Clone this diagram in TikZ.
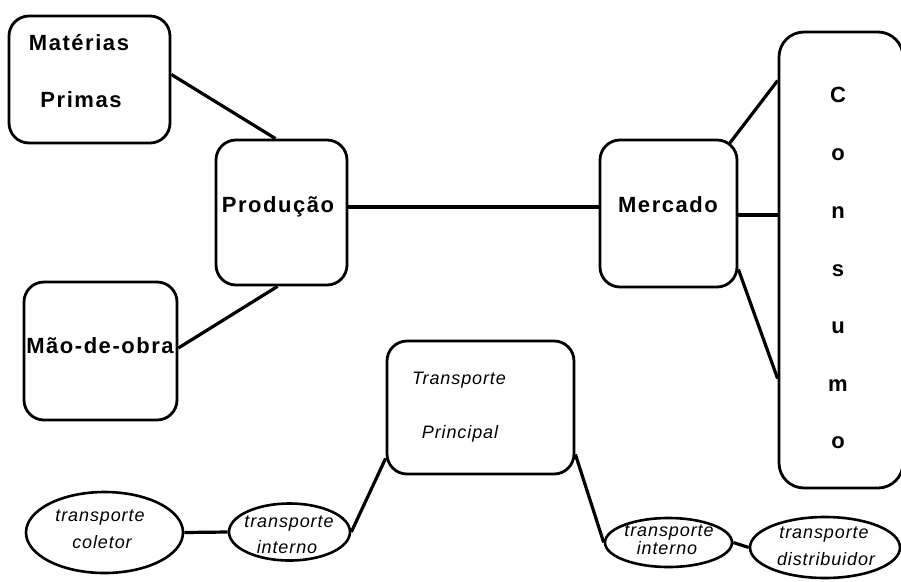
\documentclass[tikz,border=0pt]{standalone}
\usepackage{fontspec}
\setmainfont{Liberation Sans}
\usetikzlibrary{shapes.geometric,calc}
\begin{document}
\begin{tikzpicture}[x=1pt,y=-1pt,
  box/.style={draw,line width=2.8pt,rounded corners=20pt,inner sep=0pt},
  oval/.style={draw,ellipse,line width=2.6pt,inner sep=0pt},
  conn/.style={line width=3.2pt},
  lbl/.style={font=\fontsize{22}{22}\selectfont\bfseries\addfontfeature{LetterSpace=7},inner sep=0pt,anchor=base},
  itl/.style={font=\fontsize{18}{18}\selectfont\itshape\addfontfeature{LetterSpace=5},inner sep=0pt,anchor=base}]
\useasboundingbox (0,0) rectangle (901,581);
% boxes
\node[box,minimum width=161pt,minimum height=127pt] (mp) at (89.5,79.5) {};
\node[box,minimum width=131pt,minimum height=145pt] (prod) at (281.5,212.5) {};
\node[box,minimum width=153pt,minimum height=138pt] (mo) at (100.5,351) {};
\node[box,minimum width=137pt,minimum height=147pt] (merc) at (668.5,213.5) {};
\node[box,rounded corners=25pt,minimum width=124pt,minimum height=456pt] (cons) at (841,260) {};
\node[box,minimum width=187pt,minimum height=133pt] (tp) at (480.5,407.5) {};
% ellipses
\node[oval,minimum width=157pt,minimum height=81pt] (col) at (104.5,532.5) {};
\node[oval,minimum width=121pt,minimum height=57pt] (int1) at (289.5,532) {};
\node[oval,minimum width=127pt,minimum height=49pt] (int2) at (668.5,542.5) {};
\node[oval,minimum width=150pt,minimum height=61pt] (dist) at (825,547.5) {};
% texts
\node[lbl] (t1) at (79,50) {Matérias};
\node[lbl] (t2) at (81,107) {Primas};
\node[lbl] (t3) at (278,212) {Produção};
\node[lbl] (t4) at (100,353) {Mão-de-obra};
\node[lbl] (t5) at (668,212) {Mercado};
\node[lbl] (c1) at (838,102) {C};
\node[lbl] (c2) at (838,160) {o};
\node[lbl] (c3) at (838,218) {n};
\node[lbl] (c4) at (838,276) {s};
\node[lbl] (c5) at (838,333) {u};
\node[lbl] (c6) at (838,391) {m};
\node[lbl] (c7) at (838,448) {o};
\node[itl] (tp1) at (459,384) {Transporte};
\node[itl] (tp2) at (460,438) {Principal};
\node[itl] (e1) at (100,521) {transporte};
\node[itl] (e2) at (102,548) {coletor};
\node[itl] (e3) at (289,527) {transporte};
\node[itl] (e4) at (287,553) {interno};
\node[itl] (e5) at (669,536) {transporte};
\node[itl] (e6) at (667,554) {interno};
\node[itl] (e7) at (824,538) {transporte};
\node[itl] (e8) at (826,565) {distribuidor};
% connectors
\draw[conn] ([yshift=5pt]mp.east) -- ([xshift=-6pt]prod.north);
\draw[conn] ([yshift=3pt]mo.east) -- ([xshift=-4pt]prod.south);
\draw[conn] ([yshift=5.5pt]prod.east) -- ([yshift=6.5pt]merc.west);
\draw[conn] ([xshift=-9pt,yshift=-5pt]merc.north east) -- ([yshift=-50pt]cons.north west);
\draw[conn] ([yshift=-1.5pt]merc.east) -- ([yshift=-1.5pt]merc.east -| cons.west);
\draw[conn] ([yshift=19pt]merc.south east) -- ([yshift=-348pt]cons.north west);
\draw[conn] (col.east) -- (int1.west);
\draw[conn] (int1.east) -- ([yshift=17pt]tp.south west);
\draw[conn] ([yshift=21pt]tp.south east) -- (int2.west);
\draw[conn] (int2.east) -- (dist.west);
\end{tikzpicture}
\end{document}
